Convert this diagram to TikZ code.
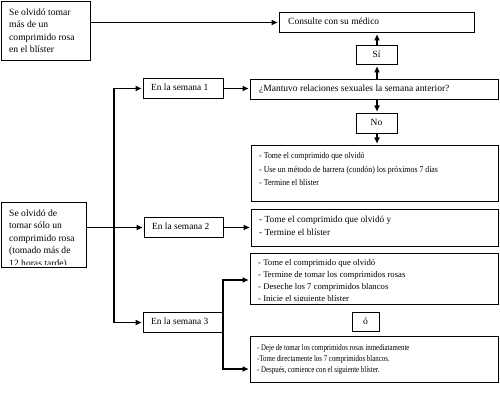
\documentclass[tikz,border=0pt]{standalone}
\usepackage{fontspec}
\setmainfont{Liberation Serif}
\usetikzlibrary{arrows.meta}
\newcommand\topst{\rule{0pt}{0.9em}}
\begin{document}
\begin{tikzpicture}[x=1pt,y=-1pt,
  box/.style={draw=black, line width=1pt, rectangle, inner sep=0pt, anchor=north west},
  ln/.style={line width=1.6pt, -{Triangle[length=6pt,width=5pt]}, shorten >=1.5pt},
  lnb/.style={line width=1.6pt, {Triangle[length=6pt,width=5pt]}-{Triangle[length=6pt,width=5pt]}, shorten >=1.5pt, shorten <=1.5pt},
  tx/.style={anchor=base west, inner sep=0pt},
  tc/.style={anchor=base, inner sep=0pt},
  mt/.style={anchor=north west, inner sep=0pt, align=left}]
\useasboundingbox (0,0) rectangle (500,403);
% boxes
\node[box, minimum width=89pt, minimum height=59pt] (A) at (1,1) {};
\node[box, minimum width=195pt, minimum height=20pt] (C) at (279,12) {};
\node[box, minimum width=41pt, minimum height=19pt] (S) at (356,45) {};
\node[box, minimum width=248pt, minimum height=20pt] (M) at (250,79) {};
\node[box, minimum width=41pt, minimum height=20pt] (N) at (356,113) {};
\node[box, minimum width=247pt, minimum height=56pt] (B1) at (251,145) {};
\node[box, minimum width=247pt, minimum height=37pt] (B2) at (251,209) {};
\node[box, minimum width=248pt, minimum height=51pt] (B3) at (250,253) {};
\node[box, minimum width=27pt, minimum height=19pt] (O) at (352,312) {};
\node[box, minimum width=248pt, minimum height=46pt] (B4) at (250,336) {};
\node[box, minimum width=85pt, minimum height=65pt] (L) at (1,202) {};
\node[box, minimum width=80pt, minimum height=20pt] (W1) at (143,78) {};
\node[box, minimum width=79pt, minimum height=20pt] (W2) at (144,217) {};
\node[box, minimum width=79pt, minimum height=20pt] (W3) at (143,312) {};
% texts
\node[mt, font={\fontsize{9.6}{12.5}\selectfont}] (tA) at (9,6.2) {\topst Se olvidó tomar\\más de un\\comprimido rosa\\en el blíster};
\node[tx, font={\fontsize{9.5}{11}\selectfont}] (tC) at (288,24.9) {Consulte con su médico};
\node[tc, font={\fontsize{9.5}{11}\selectfont}] (tS) at (376.5,57.8) {Sí};
\node[tx, font={\fontsize{9.5}{11}\selectfont}] (tM) at (259,91.9) {¿Mantuvo relaciones sexuales la semana anterior?};
\node[tc, font={\fontsize{9.5}{11}\selectfont}] (tN) at (376.5,125.8) {No};
\node[mt, font={\fontsize{8.8}{13.5}\selectfont\addfontfeature{FakeStretch=0.89}}] (tB1) at (259,150.7) {\topst - Tome el comprimido que olvidó\\- Use un método de barrera (condón) los próximos 7 días\\- Termine el blíster};
\node[mt, font={\fontsize{9.3}{13}\selectfont}] (tB2) at (259,214.4) {\topst - Tome el comprimido que olvidó y\\- Termine el blíster};
\begin{scope}
\clip ([shift={(0.5,0.5)}]B3.north west) rectangle ([shift={(-0.5,-4.5)}]B3.south east);
\node[mt, font={\fontsize{8.7}{12}\selectfont}] (tB3) at (258,257.3) {\topst - Tome el comprimido que olvidó\\- Termine de tomar los comprimidos rosas\\- Deseche los 7 comprimidos blancos\\- Inicie el siguiente blíster};
\end{scope}
\node[tc, font={\fontsize{9.5}{11}\selectfont}] (tO) at (365.5,324.3) {ó};
\node[mt, font={\fontsize{8.6}{10.8}\selectfont\addfontfeature{FakeStretch=0.8}}] (tB4) at (257,342.8) {\topst - Deje de tomar los comprimidos rosas inmediatamente\\-Tome directamente los 7 comprimidos blancos.\\- Después, comience con el siguiente blíster.};
\begin{scope}
\clip ([shift={(0.5,0.5)}]L.north west) rectangle ([shift={(-0.5,-4)}]L.south east);
\node[mt, font={\fontsize{9.6}{12.6}\selectfont}] (tL) at (9,207.2) {\topst Se olvidó de\\tomar sólo un\\comprimido rosa\\(tomado más de\\12 horas tarde)};
\end{scope}
\node[tx, font={\fontsize{9.4}{11}\selectfont}] (tW1) at (151,90.8) {En la semana 1};
\node[tx, font={\fontsize{9.4}{11}\selectfont}] (tW2) at (152,229.8) {En la semana 2};
\node[tx, font={\fontsize{9.4}{11}\selectfont}] (tW3) at (151,324.8) {En la semana 3};
% connectors
\draw[ln] (A.east |- C.west) -- (C.west);
\draw[ln] (S.north) -- (S.north |- C.south);
\draw[ln] (S.south |- M.north) -- (S.south);
\draw[ln] (N.north |- M.south) -- (N.north);
\draw[ln] (N.south) -- (N.south |- B1.north);
\draw[ln] (W1.east) -- (W1.east -| M.west);
\draw[ln] (W2.east) -- (W2.east -| B2.west);
\draw[ln] (L.east |- W2.west) -- (W2.west);
\coordinate (T) at (114,0);
\draw[lnb] (W1.west) -- (W1.west -| T) -- (W3.west -| T) -- (W3.west);
\coordinate (V1) at (223,280);
\coordinate (V2) at (223,369);
\draw[lnb] (V1 -| B3.west) -- (V1) -- (V2) -- (V2 -| B4.west);
\end{tikzpicture}
\end{document}
